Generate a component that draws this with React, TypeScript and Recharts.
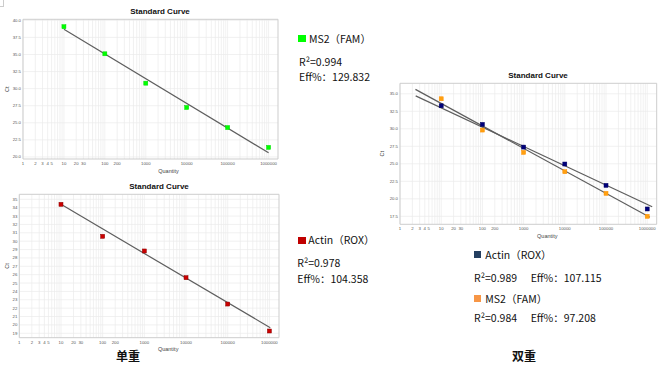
import React from 'react';
import { ScatterChart, Scatter, XAxis, YAxis, CartesianGrid, ReferenceArea } from 'recharts';

// ---- data ----
const quantities = [10, 100, 1000, 10000, 100000, 1000000];
const xTickValues = [1, 2, 3, 4, 5, 10, 20, 30, 100, 200, 1000, 10000, 100000, 1000000];

// single-plex
const ms2SingleCt = [39.06, 35.1, 30.8, 27.24, 24.3, 21.4];
const ms2SingleFitQ = [10, 1000000];
const ms2SingleFitCt = [38.68, 20.6];

const actinSingleCt = [34.4, 30.58, 28.83, 25.64, 22.49, 19.27];
const actinSingleFitQ = [10, 1050000];
const actinSingleFitCt = [34.4, 19.66];

// duplex
const actinDuplexCt = [33.29, 30.63, 27.39, 24.97, 21.92, 18.55];
const actinDuplexFitQ = [2.4, 1320000];
const actinDuplexFitCt = [34.71, 18.87];

const ms2DuplexCt = [34.29, 29.82, 26.63, 23.87, 20.78, 17.5];
const ms2DuplexFitQ = [2.37, 1160000];
const ms2DuplexFitCt = [35.63, 17.36];

const yTicks1 = [20, 22.5, 25, 27.5, 30, 32.5, 35, 37.5, 40];
const yTicks2 = [19, 20, 21, 22, 23, 24, 25, 26, 27, 28, 29, 30, 31, 32, 33, 34, 35];
const yTicks3 = [17.5, 20, 22.5, 25, 27.5, 30, 32.5, 35];

const toPts = (qs: number[], cts: number[]) => qs.map((q, i) => ({ q, ct: cts[i] }));

const X_MAX = 1.7e6;
const gridX: number[] = [];
for (let d = 1; d <= 1e6; d *= 10) {
  for (let k = 1; k <= 9; k++) {
    if (k * d <= X_MAX) gridX.push(k * d);
  }
}

const AXIS_FONT = '"Liberation Sans", Arial, sans-serif';
const CJK_FONT = '"Noto Sans CJK SC", "Noto Sans", sans-serif';

const square = (fill: string, stroke: string) => (props: any) => {
  const { cx, cy } = props;
  if (cx == null || cy == null) return <g />;
  return <rect x={cx - 2} y={cy - 2} width={4} height={4} fill={fill} stroke={stroke} strokeWidth={0.5} />;
};
const Empty = () => <g />;

type Series = { data: { q: number; ct: number }[]; fill: string; stroke: string };

function Curve(props: {
  w: number; h: number; top: number; right: number; yW: number; xH: number;
  yDom: [number, number]; yTicks: number[]; yFmt: (v: number) => string;
  pts: Series[]; fits: { q: number; ct: number }[][]; ctX: number; qDx: number;
}) {
  const { w, h, top, right, yW, xH, yDom, yTicks, yFmt, pts, fits, ctX, qDx } = props;
  return (
    <ScatterChart width={w} height={h} margin={{ top, right, bottom: 0, left: 0 }}>
      <CartesianGrid verticalValues={gridX} horizontalValues={yTicks} stroke="#ebebeb" strokeWidth={0.7} />
      <XAxis
        type="number" dataKey="q" scale="log" domain={[1, X_MAX]} allowDataOverflow
        ticks={xTickValues} interval={0} height={xH}
        tick={{ fontSize: 4.3, fill: '#555', fontFamily: AXIS_FONT }}
        tickLine={false} axisLine={false} tickSize={2} tickMargin={1}
        label={{
          content: (lp: any) => {
            const vb = lp.viewBox || {};
            return (
              <text x={vb.x + vb.width / 2 + qDx} y={vb.y + 13.5} textAnchor="middle"
                fontSize={5.5} fill="#444" fontFamily={AXIS_FONT}>Quantity</text>
            );
          },
        }}
      />
      <YAxis
        type="number" dataKey="ct" domain={yDom} allowDataOverflow ticks={yTicks} interval={0}
        width={yW} tickFormatter={yFmt}
        tick={{ fontSize: 4.3, fill: '#555', fontFamily: AXIS_FONT }}
        tickLine={false} axisLine={false} tickSize={2} tickMargin={0}
        label={{
          content: (lp: any) => {
            const vb = lp.viewBox || {};
            const cy = vb.y + vb.height / 2;
            return (
              <text x={ctX} y={cy} textAnchor="middle" dominantBaseline="central"
                transform={`rotate(-90 ${ctX} ${cy})`}
                fontSize={5.5} fill="#444" fontFamily={AXIS_FONT}>Ct</text>
            );
          },
        }}
      />
      <ReferenceArea x1={1} x2={X_MAX} y1={yDom[0]} y2={yDom[1]} fill="none" stroke="#cdcdcd" strokeWidth={1} ifOverflow="visible" />
      {fits.map((f, i) => (
        <Scatter key={'f' + i} data={f} line={{ stroke: '#5e5e5e', strokeWidth: 1.2 }} shape={Empty} isAnimationActive={false} />
      ))}
      {pts.map((p, i) => (
        <Scatter key={'p' + i} data={p.data} shape={square(p.fill, p.stroke)} isAnimationActive={false} />
      ))}
    </ScatterChart>
  );
}

const Title = ({ x, y, children }: { x: number; y: number; children: React.ReactNode }) => (
  <div style={{ position: 'absolute', left: x - 60, top: y - 6, width: 120, height: 12, lineHeight: '12px', textAlign: 'center', fontFamily: AXIS_FONT, fontWeight: 'bold', fontSize: 8, color: '#111' }}>{children}</div>
);

const Txt = ({ x, y, children }: { x: number; y: number; children: React.ReactNode }) => (
  <div style={{ position: 'absolute', left: x, top: y - 8, height: 16, lineHeight: '16px', whiteSpace: 'nowrap', fontFamily: CJK_FONT, fontSize: 10.5, color: '#111' }}>{children}</div>
);

const Sq = ({ x, y, color, s = 7 }: { x: number; y: number; color: string; s?: number }) => (
  <div style={{ position: 'absolute', left: x, top: y - s / 2, width: s, height: s, background: color }} />
);

export default function App() {
  const fmt1 = (v: number) => v.toFixed(1);
  const fmt0 = (v: number) => String(v);
  return (
    <div style={{ position: 'absolute', left: 0, top: 0, width: 665, height: 370, background: '#fff', overflow: 'hidden' }}>
      <div style={{ position: 'absolute', left: 0, top: 0, width: 3, height: 6, borderRight: '1px solid #ccc', borderBottom: '1px solid #ccc' }} />

      {/* chart 1: MS2 single */}
      <div style={{ position: 'absolute', left: 0, top: 0 }}>
        <Curve w={290} h={180} top={19.3} right={12} yW={23} xH={21}
          yDom={[19.7, 40.15]} yTicks={yTicks1} yFmt={fmt1}
          pts={[{ data: toPts(quantities, ms2SingleCt), fill: '#00ff00', stroke: '#00dd00' }]}
          fits={[toPts(ms2SingleFitQ, ms2SingleFitCt)]} ctX={7.3} qDx={18} />
      </div>
      <Title x={160} y={12.3}>Standard Curve</Title>

      {/* chart 2: Actin single */}
      <div style={{ position: 'absolute', left: 0, top: 170 }}>
        <Curve w={290} h={190} top={24.3} right={11} yW={19.3} xH={22.3}
          yDom={[18.47, 35.6]} yTicks={yTicks2} yFmt={fmt0}
          pts={[{ data: toPts(quantities, actinSingleCt), fill: '#cc0000', stroke: '#880000' }]}
          fits={[toPts(actinSingleFitQ, actinSingleFitCt)]} ctX={6.7} qDx={19} />
      </div>
      <Title x={159} y={187.3}>Standard Curve</Title>

      {/* chart 3: duplex */}
      <div style={{ position: 'absolute', left: 360, top: 60 }}>
        <Curve w={305} h={190} top={23.3} right={8.3} yW={40} xH={25.7}
          yDom={[16.36, 36.5]} yTicks={yTicks3} yFmt={fmt1}
          pts={[
            { data: toPts(quantities, ms2DuplexCt), fill: '#ffa010', stroke: '#ff9000' },
            { data: toPts(quantities, actinDuplexCt), fill: '#00007a', stroke: '#000060' },
          ]}
          fits={[toPts(actinDuplexFitQ, actinDuplexFitCt), toPts(ms2DuplexFitQ, ms2DuplexFitCt)]}
          ctX={22.3} qDx={19} />
      </div>
      <Title x={538} y={76}>Standard Curve</Title>

      {/* left legends */}
      <Sq x={298.3} y={38.6} color="#00ff00" s={7.3} />
      <Txt x={309} y={38.5}>MS2（FAM）</Txt>
      <Txt x={299} y={61.7}>R²=0.994</Txt>
      <Txt x={299} y={77.3}>Eff%：129.832</Txt>

      <Sq x={298.3} y={240.3} color="#c00000" s={7.3} />
      <Txt x={308.3} y={240.3}>Actin（ROX）</Txt>
      <Txt x={297.3} y={263.3}>R²=0.978</Txt>
      <Txt x={297.3} y={279.3}>Eff%：104.358</Txt>

      {/* right legends */}
      <Sq x={474.3} y={254.7} color="#243f60" s={7} />
      <Txt x={485.3} y={254.7}>Actin（ROX）</Txt>
      <Txt x={474} y={278.3}>R²=0.989</Txt>
      <Txt x={530.7} y={278.3}>Eff%：107.115</Txt>
      <Sq x={474.3} y={298.7} color="#f79646" s={7} />
      <Txt x={485.3} y={298.7}>MS2（FAM）</Txt>
      <Txt x={474} y={318.3}>R²=0.984</Txt>
      <Txt x={530.7} y={318.3}>Eff%：97.208</Txt>

      {/* captions */}
      <div style={{ position: 'absolute', left: 98, top: 348, width: 60, textAlign: 'center', lineHeight: '16px', fontFamily: CJK_FONT, fontWeight: 'bold', fontSize: 12, color: '#111' }}>单重</div>
      <div style={{ position: 'absolute', left: 494, top: 348, width: 60, textAlign: 'center', lineHeight: '16px', fontFamily: CJK_FONT, fontWeight: 'bold', fontSize: 12, color: '#111' }}>双重</div>
    </div>
  );
}
